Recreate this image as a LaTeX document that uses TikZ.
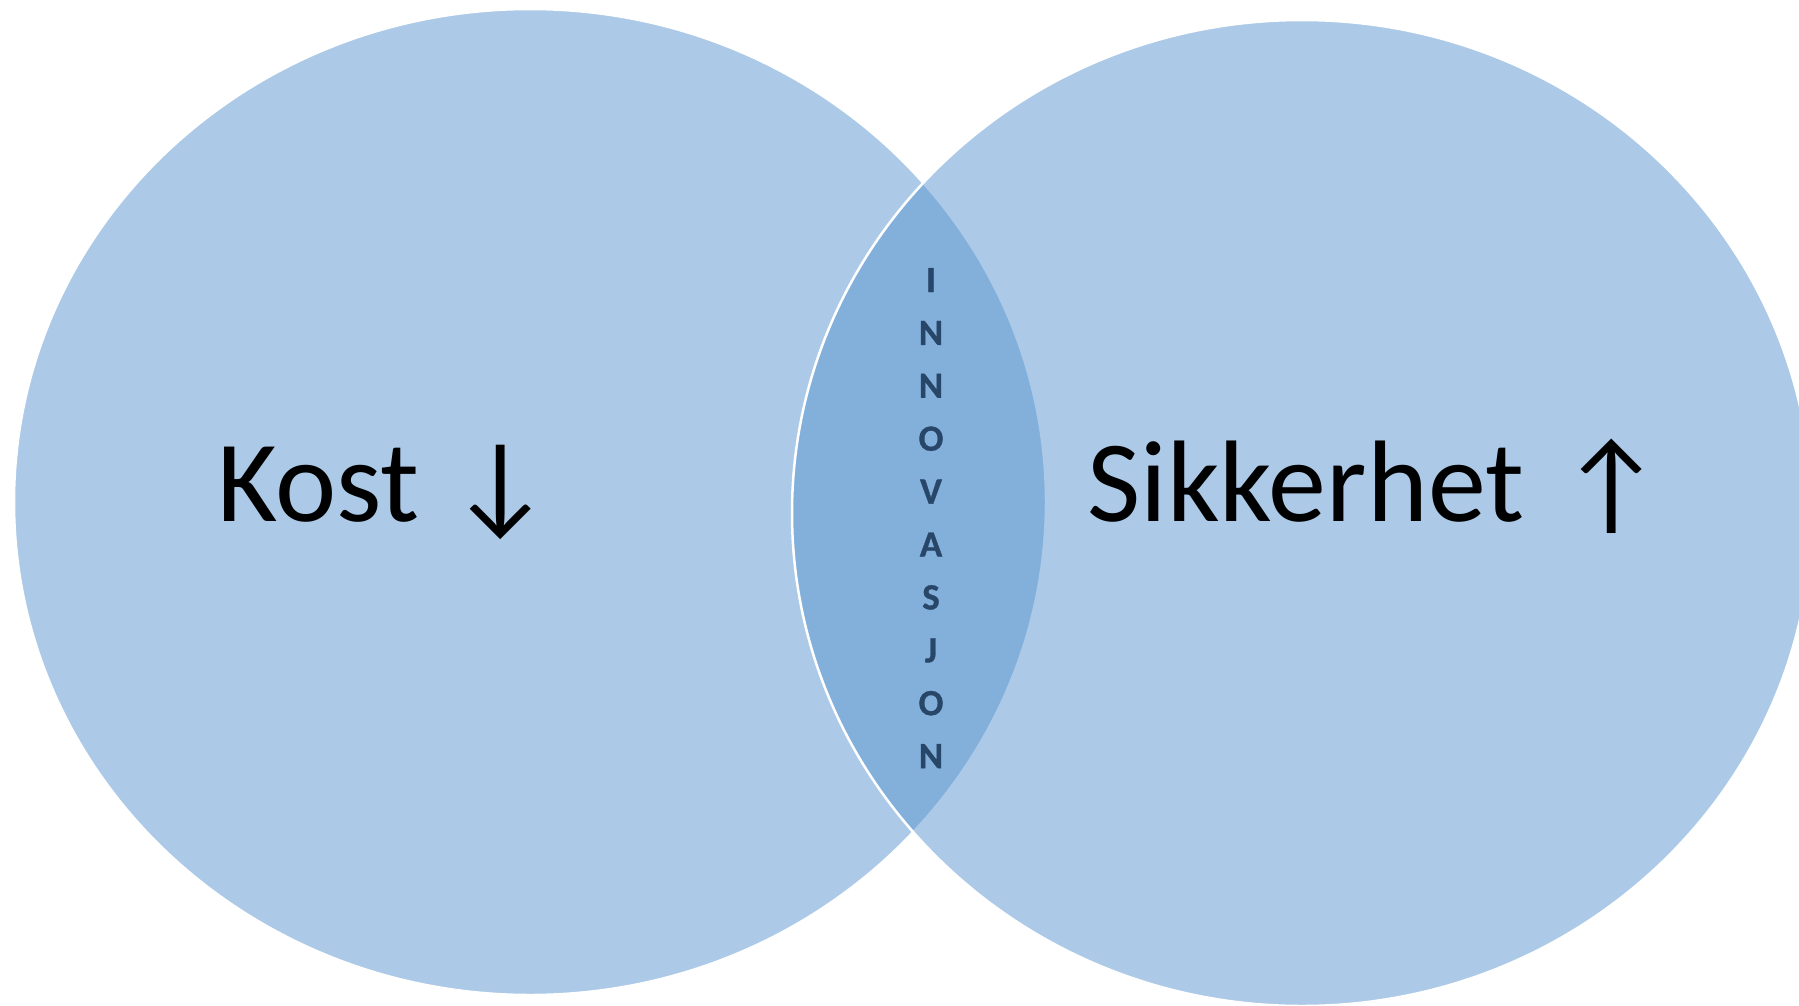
\documentclass[tikz,border=0pt]{standalone}
\usepackage{fontspec}
\setmainfont{Carlito}
\newfontfamily\lensfont[FakeBold=0.8]{Carlito}
\definecolor{vennblue}{RGB}{91,151,209}
\definecolor{lenstext}{RGB}{40,70,104}
\newcommand{\bigarrow}[2]{\hspace{#1}\makebox[82pt]{\fontsize{113}{130}\selectfont #2}}
\tikzset{
  vennset/.style={fill=vennblue,fill opacity=0.5,draw=white,draw opacity=1,line width=2.5pt},
  bigtext/.style={font=\fontsize{116}{130}\selectfont,text=black,inner sep=0pt,anchor=base west},
  lensletter/.style={font=\lensfont\fontsize{37}{44}\selectfont\bfseries,text=lenstext,inner sep=0pt,anchor=base}
}
\begin{document}
\begin{tikzpicture}[x=1pt,y=-1pt]
\useasboundingbox (0,0) rectangle (1799,1005);
\clip (0,0) rectangle (1799,1005);
\fill[white] (0,0) rectangle (1799,1005);
\path[vennset] (530,502) ellipse [x radius=516, y radius=493];
\path[vennset] (1302,513) ellipse [x radius=510, y radius=493];
\node[bigtext] (kost) at (217,521) {Kost\bigarrow{40pt}{↓}};
\node[bigtext] (sikkerhet) at (1087,521) {Sikkerhet\bigarrow{47pt}{↑}};
\foreach \L [count=\i from 0] in {I,N,N,O,V,A,S,J,O,N}{
  \node[lensletter] (l\i) at (931,292+52.9*\i) {\L};
}
\end{tikzpicture}
\end{document}
